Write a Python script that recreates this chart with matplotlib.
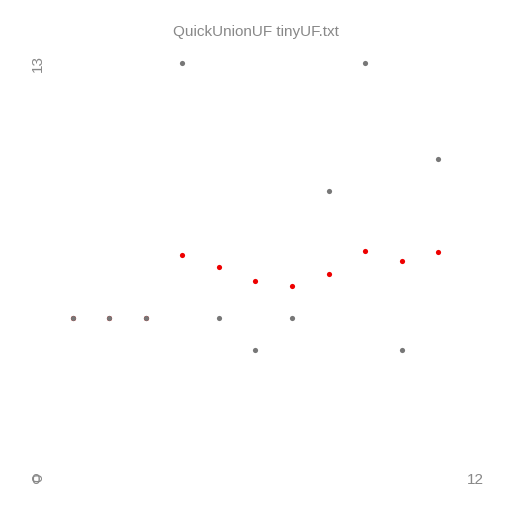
import matplotlib
matplotlib.use("Agg")
import matplotlib.pyplot as plt
from matplotlib.transforms import offset_copy

title = "QuickUnionUF tinyUF.txt"
ops = [1, 2, 3, 4, 5, 6, 7, 8, 9, 10, 11]
cost = [5, 5, 5, 13, 5, 4, 5, 9, 13, 4, 10]
avg = [5, 5, 5, 7, 6.6, 6.17, 6, 6.375, 7.11, 6.8, 7.09]
xmax = 12
ymax = 13

plt.rcParams['font.family'] = ['Liberation Sans', 'DejaVu Sans']
fig = plt.figure(figsize=(5.12, 5.12), dpi=100)
ax = fig.add_axes([36/512, 1-478/512, (475-36)/512, (478-63)/512])
ax.set_xlim(0, xmax)
ax.set_ylim(0, ymax)
ax.axis('off')
ax.scatter(ops, avg, s=14, color='#ee0000', linewidths=0, zorder=2, clip_on=False)
ax.scatter(ops, cost, s=14, color='#777777', linewidths=0, zorder=3, clip_on=False)
gray = '#888888'
fs = 11
down = offset_copy(ax.transData, fig=fig, x=0, y=-2, units='dots')
right = offset_copy(ax.transData, fig=fig, x=2, y=0, units='dots')
ax.text(0, 0, "0", ha='center', va='center', color=gray, fontsize=fs, transform=down)
ax.text(0, 0, "0", ha='center', va='center', color=gray, fontsize=fs, rotation=90,
        rotation_mode='anchor', transform=right)
ax.text(xmax, 0, str(xmax), ha='center', va='center', color=gray, fontsize=fs, transform=down)
ax.text(0, ymax, str(ymax), ha='center', va='center', color=gray, fontsize=fs, rotation=90,
        rotation_mode='anchor', transform=right)
fig.text(0.5, 1-32/512, title, ha='center', va='center', color=gray, fontsize=fs)
fig.savefig("out.png", dpi=100)
